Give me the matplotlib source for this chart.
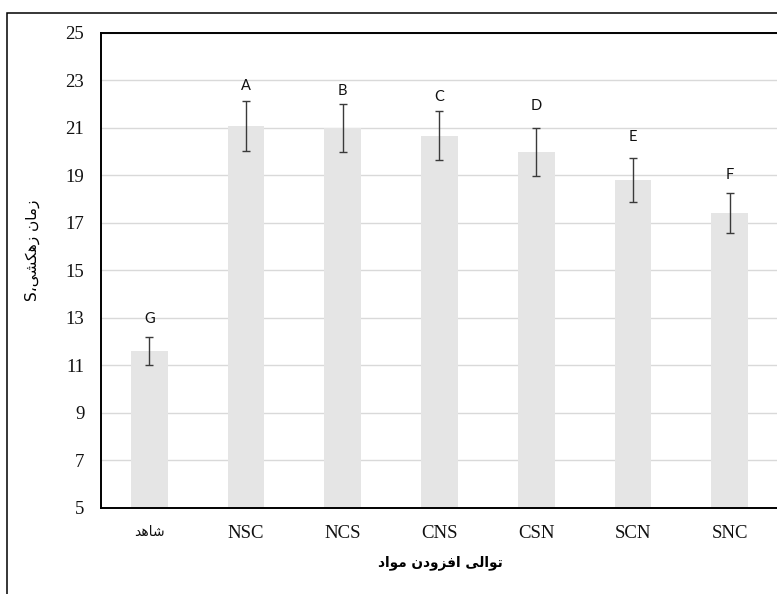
import matplotlib
matplotlib.use("Agg")
import matplotlib.pyplot as plt
from matplotlib.patches import Rectangle

# ---- data ----
categories = ["شاهد", "NSC", "NCS", "CNS", "CSN", "SCN", "SNC"]
values = [11.61, 21.08, 20.98, 20.66, 19.97, 18.78, 17.42]
errors = [0.60, 1.05, 1.02, 1.03, 1.00, 0.93, 0.85]
letters = ["G", "A", "B", "C", "D", "E", "F"]
y_ticks = [5, 7, 9, 11, 13, 15, 17, 19, 21, 23, 25]

x_title = "توالی افزودن مواد"
y_title = "زمان زهکشی،"
y_unit = "S"

# vertical gap (points) between each error-bar cap and its letter
letter_gap_pt = [13.0, 10.8, 9.1, 10.3, 16.1, 15.6, 12.7]

# ---- minimal Arabic-script shaping (presentation forms, visual order) ----
# iso, final, initial, medial
FORMS = {
    "ا": ("\uFE8D", "\uFE8E", None, None),
    "د": ("\uFEA9", "\uFEAA", None, None),
    "ز": ("\uFEAF", "\uFEB0", None, None),
    "و": ("\uFEED", "\uFEEE", None, None),
    "ت": ("\uFE95", "\uFE96", "\uFE97", "\uFE98"),
    "ل": ("\uFEDD", "\uFEDE", "\uFEDF", "\uFEE0"),
    "ی": ("\uFBFC", "\uFBFD", "\uFBFE", "\uFBFF"),
    "ف": ("\uFED1", "\uFED2", "\uFED3", "\uFED4"),
    "ن": ("\uFEE5", "\uFEE6", "\uFEE7", "\uFEE8"),
    "م": ("\uFEE1", "\uFEE2", "\uFEE3", "\uFEE4"),
    "ه": ("\uFEE9", "\uFEEA", "\uFEEB", "\uFEEC"),
    "ک": ("\uFB8E", "\uFB8F", "\uFB90", "\uFB91"),
    "ش": ("\uFEB5", "\uFEB6", "\uFEB7", "\uFEB8"),
}


def shape_rtl(text):
    out = []
    for i, ch in enumerate(text):
        if ch not in FORMS:
            out.append(ch)
            continue
        iso, fin, ini, med = FORMS[ch]
        prev = text[i - 1] if i > 0 else ""
        nxt = text[i + 1] if i + 1 < len(text) else ""
        join_prev = prev in FORMS and FORMS[prev][2] is not None
        join_next = ini is not None and nxt in FORMS
        if join_prev and join_next:
            out.append(med)
        elif join_prev:
            out.append(fin)
        elif join_next:
            out.append(ini)
        else:
            out.append(iso)
    return "".join(reversed(out))


def is_arabic(s):
    return any(c in FORMS for c in s)


# ---- figure ----
W, H, DPI = 777, 594, 100
fig = plt.figure(figsize=(W / DPI, H / DPI), dpi=DPI)
fig.patch.set_facecolor("white")

ax_left, ax_right, ax_top, ax_bottom = 101, 778, 32.5, 508
ax = fig.add_axes([ax_left / W, 1 - ax_bottom / H,
                   (ax_right - ax_left) / W, (ax_bottom - ax_top) / H])

x = list(range(len(categories)))
ax.bar(x, values, width=0.38, color="#e5e5e5", zorder=2)
ax.errorbar(x, values, yerr=errors, fmt="none", ecolor="#3a3a3a",
            elinewidth=1.0, capsize=2.9, capthick=1.0, zorder=3)

for xi, v, e, lab, gap in zip(x, values, errors, letters, letter_gap_pt):
    ax.annotate(lab, (xi, v + e), xytext=(0, gap), textcoords="offset points",
                ha="center", va="center", fontsize=10.5, family="Lato",
                color="#111111", zorder=4)

ax.set_xlim(-0.5, len(categories) - 0.5)
ax.set_ylim(y_ticks[0], y_ticks[-1])
ax.set_yticks(y_ticks)
ax.set_yticklabels([str(t) for t in y_ticks], family="Liberation Serif",
                   fontsize=13.5)
ax.set_xticks(x)
ax.set_xticklabels([shape_rtl(c) if is_arabic(c) else c for c in categories])
for tl, c in zip(ax.get_xticklabels(), categories):
    if is_arabic(c):
        tl.set_family("DejaVu Sans")
        tl.set_fontsize(10)
    else:
        tl.set_family("Liberation Serif")
        tl.set_fontsize(13.5)
ax.tick_params(axis="both", length=0, pad=12, colors="#111111")

ax.yaxis.grid(True, color="#d9d9d9", linewidth=1.0, zorder=0)
ax.set_axisbelow(True)
for side in ("left", "top", "bottom"):
    ax.spines[side].set_color("black")
    ax.spines[side].set_linewidth(1.4)
ax.spines["right"].set_visible(False)

# axis titles
fig.text(440 / W, 1 - 563 / H, shape_rtl(x_title), ha="center", va="center",
         fontsize=9.8, fontweight="bold", family="DejaVu Sans")
fig.text(32 / W, 1 - 250 / H, y_unit + shape_rtl(y_title), ha="center",
         va="center", rotation=90, fontsize=11, family="DejaVu Sans")

# outer chart frame
fig.patches.append(Rectangle((7 / W, -0.1), 1.2, 1 - 12.5 / H + 0.1,
                             transform=fig.transFigure, fill=False,
                             edgecolor="black", linewidth=1.1,
                             clip_on=False))

fig.savefig("out.png", dpi=DPI)
